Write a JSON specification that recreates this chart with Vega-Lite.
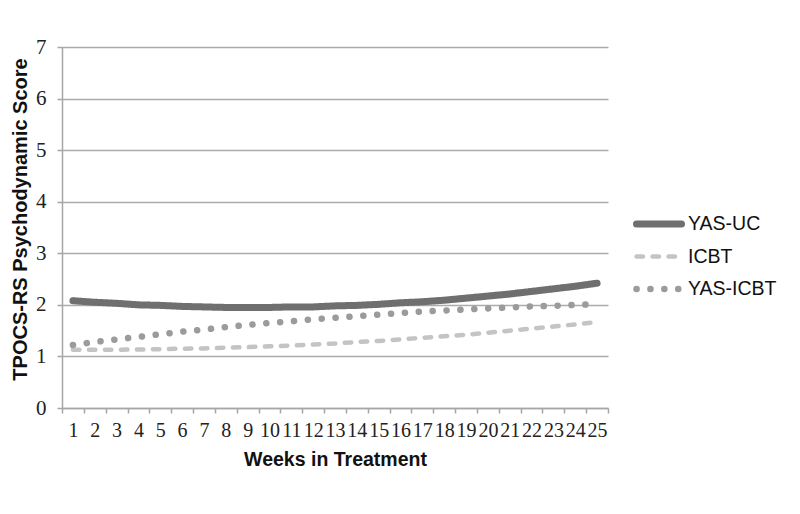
{
  "$schema": "https://vega.github.io/schema/vega-lite/v6.json",
  "autosize": {"type": "none"},
  "width": 546,
  "height": 361,
  "padding": {"left": 62, "top": 47, "right": 192, "bottom": 106},
  "background": "white",
  "data": {"values": [
    {"week": 1, "group": "YAS-UC", "score": 2.08},
    {"week": 2, "group": "YAS-UC", "score": 2.05},
    {"week": 3, "group": "YAS-UC", "score": 2.03},
    {"week": 4, "group": "YAS-UC", "score": 2.0},
    {"week": 5, "group": "YAS-UC", "score": 1.99},
    {"week": 6, "group": "YAS-UC", "score": 1.97},
    {"week": 7, "group": "YAS-UC", "score": 1.96},
    {"week": 8, "group": "YAS-UC", "score": 1.95},
    {"week": 9, "group": "YAS-UC", "score": 1.95},
    {"week": 10, "group": "YAS-UC", "score": 1.95},
    {"week": 11, "group": "YAS-UC", "score": 1.96},
    {"week": 12, "group": "YAS-UC", "score": 1.96},
    {"week": 13, "group": "YAS-UC", "score": 1.98},
    {"week": 14, "group": "YAS-UC", "score": 1.99},
    {"week": 15, "group": "YAS-UC", "score": 2.01},
    {"week": 16, "group": "YAS-UC", "score": 2.04},
    {"week": 17, "group": "YAS-UC", "score": 2.06},
    {"week": 18, "group": "YAS-UC", "score": 2.09},
    {"week": 19, "group": "YAS-UC", "score": 2.13},
    {"week": 20, "group": "YAS-UC", "score": 2.17},
    {"week": 21, "group": "YAS-UC", "score": 2.21},
    {"week": 22, "group": "YAS-UC", "score": 2.26},
    {"week": 23, "group": "YAS-UC", "score": 2.31},
    {"week": 24, "group": "YAS-UC", "score": 2.36},
    {"week": 25, "group": "YAS-UC", "score": 2.42},
    {"week": 1, "group": "ICBT", "score": 1.13},
    {"week": 2, "group": "ICBT", "score": 1.13},
    {"week": 3, "group": "ICBT", "score": 1.13},
    {"week": 4, "group": "ICBT", "score": 1.134},
    {"week": 5, "group": "ICBT", "score": 1.14},
    {"week": 6, "group": "ICBT", "score": 1.15},
    {"week": 7, "group": "ICBT", "score": 1.155},
    {"week": 8, "group": "ICBT", "score": 1.17},
    {"week": 9, "group": "ICBT", "score": 1.18},
    {"week": 10, "group": "ICBT", "score": 1.195},
    {"week": 11, "group": "ICBT", "score": 1.21},
    {"week": 12, "group": "ICBT", "score": 1.23},
    {"week": 13, "group": "ICBT", "score": 1.25},
    {"week": 14, "group": "ICBT", "score": 1.28},
    {"week": 15, "group": "ICBT", "score": 1.3},
    {"week": 16, "group": "ICBT", "score": 1.33},
    {"week": 17, "group": "ICBT", "score": 1.36},
    {"week": 18, "group": "ICBT", "score": 1.39},
    {"week": 19, "group": "ICBT", "score": 1.42},
    {"week": 20, "group": "ICBT", "score": 1.46},
    {"week": 21, "group": "ICBT", "score": 1.5},
    {"week": 22, "group": "ICBT", "score": 1.54},
    {"week": 23, "group": "ICBT", "score": 1.58},
    {"week": 24, "group": "ICBT", "score": 1.62},
    {"week": 25, "group": "ICBT", "score": 1.67},
    {"week": 1, "group": "YAS-ICBT", "score": 1.22},
    {"week": 2, "group": "YAS-ICBT", "score": 1.28},
    {"week": 3, "group": "YAS-ICBT", "score": 1.33},
    {"week": 4, "group": "YAS-ICBT", "score": 1.38},
    {"week": 5, "group": "YAS-ICBT", "score": 1.43},
    {"week": 6, "group": "YAS-ICBT", "score": 1.48},
    {"week": 7, "group": "YAS-ICBT", "score": 1.52},
    {"week": 8, "group": "YAS-ICBT", "score": 1.57},
    {"week": 9, "group": "YAS-ICBT", "score": 1.61},
    {"week": 10, "group": "YAS-ICBT", "score": 1.65},
    {"week": 11, "group": "YAS-ICBT", "score": 1.68},
    {"week": 12, "group": "YAS-ICBT", "score": 1.72},
    {"week": 13, "group": "YAS-ICBT", "score": 1.75},
    {"week": 14, "group": "YAS-ICBT", "score": 1.78},
    {"week": 15, "group": "YAS-ICBT", "score": 1.81},
    {"week": 16, "group": "YAS-ICBT", "score": 1.84},
    {"week": 17, "group": "YAS-ICBT", "score": 1.87},
    {"week": 18, "group": "YAS-ICBT", "score": 1.89},
    {"week": 19, "group": "YAS-ICBT", "score": 1.91},
    {"week": 20, "group": "YAS-ICBT", "score": 1.93},
    {"week": 21, "group": "YAS-ICBT", "score": 1.95},
    {"week": 22, "group": "YAS-ICBT", "score": 1.97},
    {"week": 23, "group": "YAS-ICBT", "score": 1.98},
    {"week": 24, "group": "YAS-ICBT", "score": 2.0},
    {"week": 25, "group": "YAS-ICBT", "score": 2.01}
  ]},
  "mark": {"type": "line", "strokeCap": "round", "strokeJoin": "round"},
  "encoding": {
    "x": {
      "field": "week", "type": "ordinal",
      "scale": {"type": "band", "paddingInner": 0, "paddingOuter": 0},
      "axis": {
        "title": "Weeks in Treatment",
        "labelAngle": 0,
        "tickBand": "extent",
        "labelFont": "Liberation Serif", "labelFontSize": 20, "labelColor": "#222222",
        "labelPadding": 7,
        "titleFont": "Liberation Sans", "titleFontSize": 19.5, "titleFontWeight": "bold", "titleColor": "#111111",
        "titlePadding": 10,
        "domainColor": "#a6a6a6", "domainWidth": 1.5,
        "tickColor": "#a6a6a6", "tickWidth": 1.5, "tickSize": 5,
        "grid": false
      }
    },
    "y": {
      "field": "score", "type": "quantitative",
      "scale": {"domain": [0, 7], "nice": false, "zero": true},
      "axis": {
        "title": "TPOCS-RS Psychodynamic Score",
        "values": [0, 1, 2, 3, 4, 5, 6, 7],
        "labelFont": "Liberation Serif", "labelFontSize": 21, "labelColor": "#222222",
        "labelPadding": 11,
        "titleFont": "Liberation Sans", "titleFontSize": 20, "titleFontWeight": "bold", "titleColor": "#111111",
        "titlePadding": 5,
        "titleY": 172,
        "domainColor": "#a6a6a6", "domainWidth": 1.5,
        "tickColor": "#a6a6a6", "tickWidth": 1.5, "tickSize": 5,
        "grid": true, "gridColor": "#ababab", "gridWidth": 1.5
      }
    },
    "color": {
      "field": "group", "type": "nominal",
      "scale": {"domain": ["YAS-UC", "ICBT", "YAS-ICBT"], "range": ["#6f6f6f", "#c4c4c4", "#9b9b9b"]},
      "legend": {
        "title": null,
        "orient": "none",
        "legendX": 571,
        "legendY": 166,
        "symbolType": "stroke",
        "symbolSize": 2025,
        "clipHeight": 22,
        "labelFont": "Liberation Sans", "labelFontSize": 19.5, "labelColor": "#111111",
        "labelOffset": 3,
        "rowPadding": 10.5,
        "encode": {"symbols": {"update": {"strokeCap": {"value": "round"}}}}
      }
    },
    "strokeDash": {
      "field": "group", "type": "nominal",
      "scale": {"domain": ["YAS-UC", "ICBT", "YAS-ICBT"], "range": [[1, 0], [6.5, 9.5], [0.1, 13.8]]}
    },
    "strokeWidth": {
      "field": "group", "type": "nominal",
      "scale": {"type": "ordinal", "domain": ["YAS-UC", "ICBT", "YAS-ICBT"], "range": [7, 4.5, 6.5]}
    }
  },
  "config": {"view": {"stroke": null}}
}
